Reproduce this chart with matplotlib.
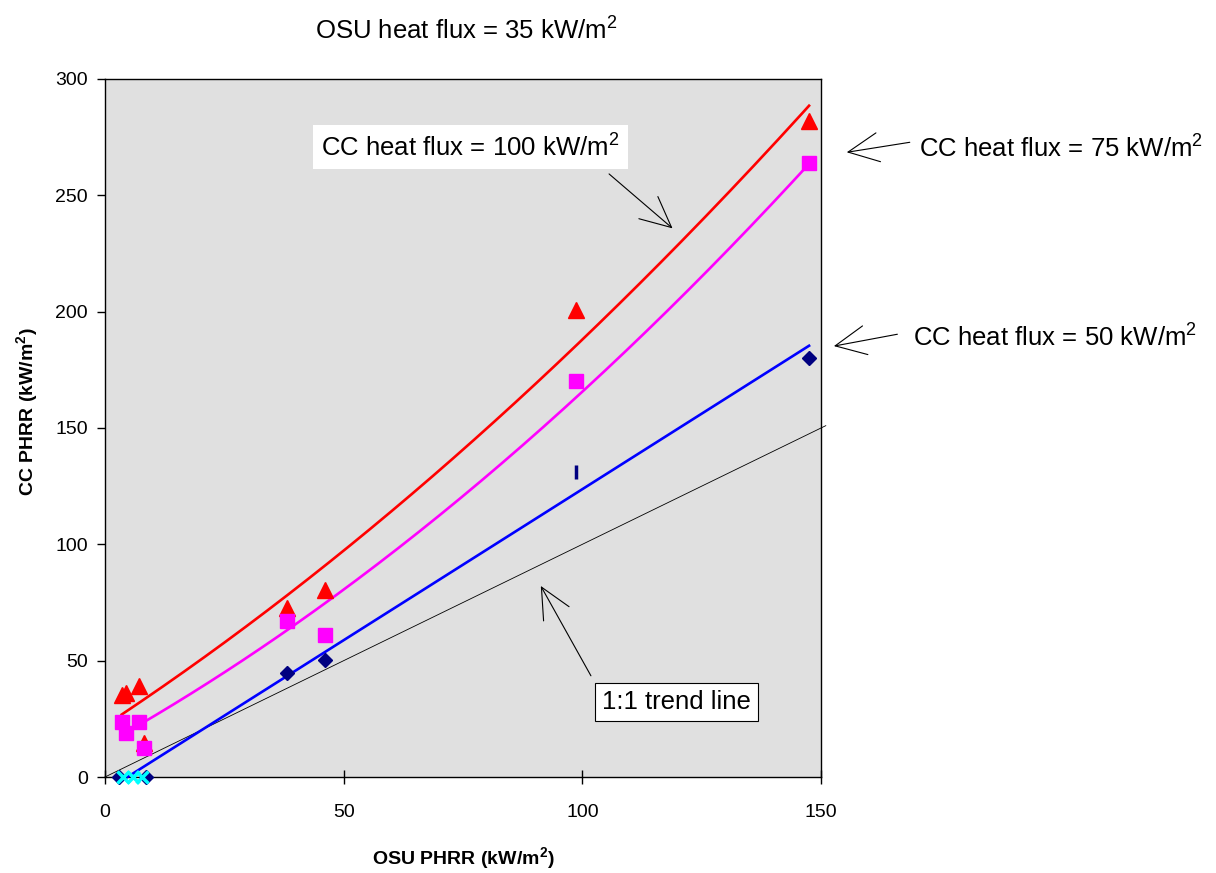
import numpy as np
import matplotlib
matplotlib.use('Agg')
import matplotlib.pyplot as plt

plt.rcParams['font.family'] = ['Liberation Sans', 'DejaVu Sans']
plt.rcParams['mathtext.fontset'] = 'custom'
plt.rcParams['mathtext.rm'] = 'Liberation Sans'
plt.rcParams['mathtext.bf'] = 'Liberation Sans:bold'

# CC heat flux = 100 kW/m2 (red triangles)
x100 = [3.5, 4.5, 7.2, 8.2, 38.1, 46.1, 98.7, 147.5]
y100 = [35.2, 36.0, 39.0, 14.7, 72.5, 80.4, 200.7, 282.0]
# CC heat flux = 75 kW/m2 (magenta squares)
x75 = [3.5, 4.5, 7.2, 8.2, 38.1, 46.1, 98.7, 147.5]
y75 = [23.8, 19.0, 23.8, 12.3, 67.0, 61.0, 170.0, 263.9]
# CC heat flux = 50 kW/m2 (navy diamonds)
x50 = [3.0, 8.5, 38.1, 46.1, 147.5]
y50 = [0.0, 0.0, 44.7, 50.3, 180.0]
# other points
x_cross = [3.7, 5.9, 7.7]
y_cross = [0.0, 0.0, 0.0]
x_bar = [98.7]
y_bar = [131.0]

# trend line coefficients (highest power first)
fit100 = [0.0031, 1.349, 22.1]
fit75 = [0.0037, 1.146, 14.0]
fit50 = [1.298, -6.1]
fit_range = [3.5, 147.5]
one_to_one = [0, 151]

fig = plt.figure(figsize=(12.16, 8.73), dpi=100)
ax = fig.add_axes([105/1216, 96/873, 716/1216, 698/873])
ax.set_facecolor('#E0E0E0')

xs = np.linspace(fit_range[0], fit_range[1], 200)
ax.plot(one_to_one, one_to_one, color='black', lw=0.6, clip_on=False, zorder=2)
ax.plot(xs, np.polyval(fit100, xs), color='#FF0000', lw=1.9, zorder=3)
ax.plot(xs, np.polyval(fit75, xs), color='#FF00FF', lw=1.9, zorder=3)
ax.plot(xs, np.polyval(fit50, xs), color='#0000FF', lw=1.9, zorder=3, clip_on=False)

ax.plot(x100, y100, '^', color='#FF0000', ms=11, mec='#FF0000', zorder=4, clip_on=False)
ax.plot(x75, y75, 's', color='#FF00FF', ms=10.5, mec='#FF00FF', zorder=4, clip_on=False)
ax.plot(x50, y50, 'D', color='#000080', ms=7.5, mec='#000080', zorder=4, clip_on=False)
ax.plot(x_cross, y_cross, 'x', color='#00FFFF', ms=9, mew=2.5, zorder=5, clip_on=False)
ax.plot(x_bar, y_bar, '|', color='#000080', ms=10, mew=2.5, zorder=4)

ax.set_xlim(0, 150)
ax.set_ylim(0, 300)
ax.set_xticks([0, 50, 100, 150])
ax.set_yticks([0, 50, 100, 150, 200, 250, 300])
ax.tick_params(axis='x', direction='inout', length=9.4, width=1, labelsize=14, pad=15)
ax.tick_params(axis='y', direction='out', length=5.8, width=1, labelsize=14, pad=6.5)
for s in ax.spines.values():
    s.set_color('black')
    s.set_linewidth(1)

ax.set_xlabel(r'OSU PHRR (kW/m$^{\mathbf{2}}$)', fontsize=14, fontweight='bold', va='center')
ax.xaxis.set_label_coords(0.5, -0.1175)
ax.set_ylabel(r'CC PHRR (kW/m$^{\mathbf{2}}$)', fontsize=14, fontweight='bold', va='center')
ax.yaxis.set_label_coords(-0.108, 0.523)

fig.text(466/1216, 1 - 30/873, r'OSU heat flux = 35 kW/m$^2$', fontsize=18.5,
         ha='center', va='center')

arrow = dict(arrowstyle='->,head_length=22,head_width=10.5', lw=0.8,
             color='black', mutation_scale=1, shrinkA=0, shrinkB=0)

ax.text(76.5, 270.8, r'CC heat flux = 100 kW/m$^2$', fontsize=18.5, ha='center',
        va='center', bbox=dict(facecolor='white', edgecolor='none', pad=6), zorder=6)
ax.annotate('', xy=(118.9, 235.8), xytext=(105.6, 259.2), arrowprops=arrow)

ax.text(170.5, 270.3, r'CC heat flux = 75 kW/m$^2$', fontsize=18.5, ha='left',
        va='center', clip_on=False)
ax.annotate('', xy=(155.4, 268.5), xytext=(168.6, 272.8), arrowprops=arrow,
            annotation_clip=False)

ax.text(169.3, 189.1, r'CC heat flux = 50 kW/m$^2$', fontsize=18.5, ha='left',
        va='center', clip_on=False)
ax.annotate('', xy=(152.7, 185.2), xytext=(166.0, 190.3), arrowprops=arrow,
            annotation_clip=False)

ax.text(119.7, 32.3, '1:1 trend line', fontsize=18.5, ha='center', va='center',
        bbox=dict(facecolor='white', edgecolor='black', lw=0.8, pad=5), zorder=6)
ax.annotate('', xy=(91.3, 82.1), xytext=(101.8, 43.5), arrowprops=arrow)

fig.savefig('out.png', dpi=100)
